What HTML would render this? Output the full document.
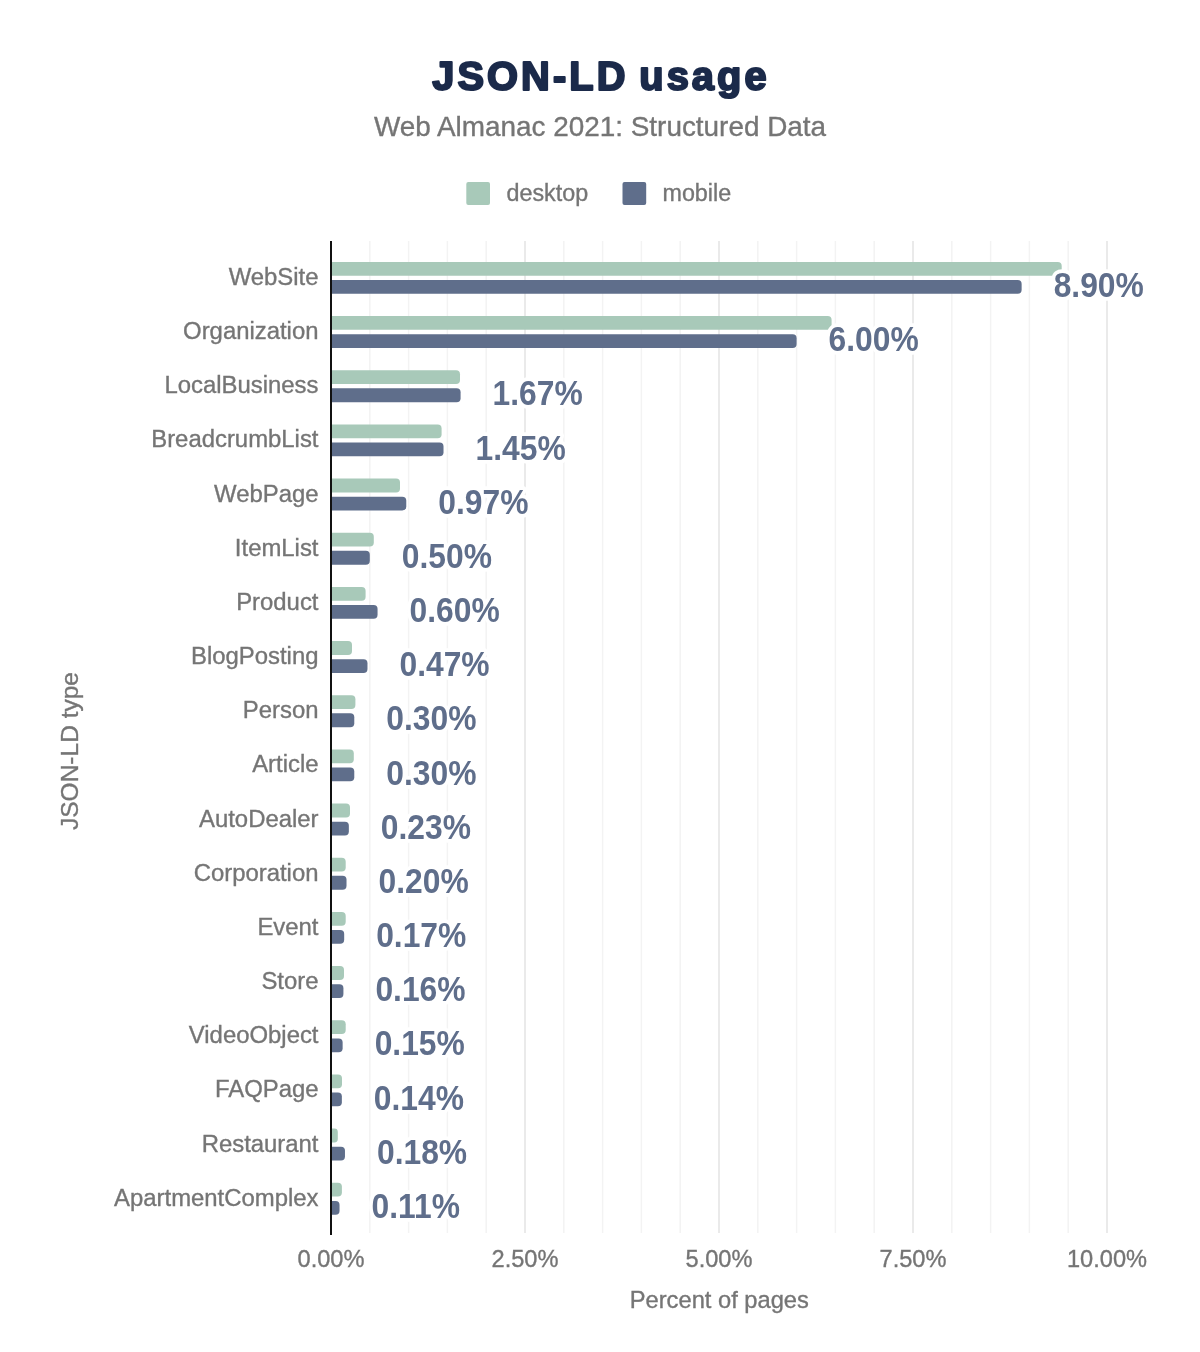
<!DOCTYPE html>
<html><head><meta charset="utf-8"><title>JSON-LD usage</title>
<style>
html,body{margin:0;padding:0;background:#fff;}
body{width:1200px;height:1352px;overflow:hidden;}
svg{display:block;will-change:transform;font-family:"Liberation Sans",sans-serif;}
.cat{font-size:23.9px;fill:#757575;text-anchor:end;}
text.g,.cat,.tick{stroke:#757575;stroke-width:0.35px;}
.tick{font-size:23.6px;fill:#757575;text-anchor:middle;}
.val{font-size:31.8px;font-weight:bold;fill:#5f6e8b;stroke:#fff;stroke-width:7px;paint-order:stroke;stroke-linejoin:round;}
</style></head><body>
<svg width="1200" height="1352" viewBox="0 0 1200 1352">

<text x="432.2" y="90.2" font-size="39.8" font-weight="bold" fill="#1b2a4a" stroke="#1b2a4a" stroke-width="2.1" stroke-linejoin="round" letter-spacing="3.1" word-spacing="-3.5">JSON-LD usage</text>
<text x="600" y="135.6" text-anchor="middle" font-size="27.9" class="g" fill="#757575">Web Almanac 2021: Structured Data</text>
<rect x="466.3" y="182" width="23.7" height="23" rx="2" fill="#a8c9b9"/>
<text x="506.5" y="200.7" font-size="23.3" class="g" fill="#757575">desktop</text>
<rect x="622.5" y="182" width="23.7" height="23" rx="2" fill="#5f6e8b"/>
<text x="662.5" y="200.7" font-size="23.3" class="g" fill="#757575">mobile</text>
<rect x="369.05" y="241" width="1.5" height="992" fill="#f3f3f3"/>
<rect x="407.85" y="241" width="1.5" height="992" fill="#f3f3f3"/>
<rect x="446.65" y="241" width="1.5" height="992" fill="#f3f3f3"/>
<rect x="485.45" y="241" width="1.5" height="992" fill="#f3f3f3"/>
<rect x="524.10" y="241" width="1.8" height="992" fill="#e8e8e8"/>
<rect x="563.05" y="241" width="1.5" height="992" fill="#f3f3f3"/>
<rect x="601.85" y="241" width="1.5" height="992" fill="#f3f3f3"/>
<rect x="640.65" y="241" width="1.5" height="992" fill="#f3f3f3"/>
<rect x="679.45" y="241" width="1.5" height="992" fill="#f3f3f3"/>
<rect x="718.10" y="241" width="1.8" height="992" fill="#e8e8e8"/>
<rect x="757.05" y="241" width="1.5" height="992" fill="#f3f3f3"/>
<rect x="795.85" y="241" width="1.5" height="992" fill="#f3f3f3"/>
<rect x="834.65" y="241" width="1.5" height="992" fill="#f3f3f3"/>
<rect x="873.45" y="241" width="1.5" height="992" fill="#f3f3f3"/>
<rect x="912.10" y="241" width="1.8" height="992" fill="#e8e8e8"/>
<rect x="951.05" y="241" width="1.5" height="992" fill="#f3f3f3"/>
<rect x="989.85" y="241" width="1.5" height="992" fill="#f3f3f3"/>
<rect x="1028.65" y="241" width="1.5" height="992" fill="#f3f3f3"/>
<rect x="1067.45" y="241" width="1.5" height="992" fill="#f3f3f3"/>
<rect x="1106.10" y="241" width="1.8" height="992" fill="#e8e8e8"/>
<path d="M331.00,261.90H1057.70A4.00,4.00 0 0 1 1061.70,265.90V271.70A4.00,4.00 0 0 1 1057.70,275.70H331.00Z" fill="#a8c9b9"/>
<path d="M331.00,280.00H1017.64A4.00,4.00 0 0 1 1021.64,284.00V289.80A4.00,4.00 0 0 1 1017.64,293.80H331.00Z" fill="#5f6e8b"/>
<path d="M331.00,316.07H827.60A4.00,4.00 0 0 1 831.60,320.07V325.87A4.00,4.00 0 0 1 827.60,329.87H331.00Z" fill="#a8c9b9"/>
<path d="M331.00,334.17H792.60A4.00,4.00 0 0 1 796.60,338.17V343.97A4.00,4.00 0 0 1 792.60,347.97H331.00Z" fill="#5f6e8b"/>
<path d="M331.00,370.24H456.00A4.00,4.00 0 0 1 460.00,374.24V380.04A4.00,4.00 0 0 1 456.00,384.04H331.00Z" fill="#a8c9b9"/>
<path d="M331.00,388.34H456.59A4.00,4.00 0 0 1 460.59,392.34V398.14A4.00,4.00 0 0 1 456.59,402.14H331.00Z" fill="#5f6e8b"/>
<path d="M331.00,424.41H437.60A4.00,4.00 0 0 1 441.60,428.41V434.21A4.00,4.00 0 0 1 437.60,438.21H331.00Z" fill="#a8c9b9"/>
<path d="M331.00,442.51H439.52A4.00,4.00 0 0 1 443.52,446.51V452.31A4.00,4.00 0 0 1 439.52,456.31H331.00Z" fill="#5f6e8b"/>
<path d="M331.00,478.58H396.00A4.00,4.00 0 0 1 400.00,482.58V488.38A4.00,4.00 0 0 1 396.00,492.38H331.00Z" fill="#a8c9b9"/>
<path d="M331.00,496.68H402.27A4.00,4.00 0 0 1 406.27,500.68V506.48A4.00,4.00 0 0 1 402.27,510.48H331.00Z" fill="#5f6e8b"/>
<path d="M331.00,532.75H369.80A4.00,4.00 0 0 1 373.80,536.75V542.55A4.00,4.00 0 0 1 369.80,546.55H331.00Z" fill="#a8c9b9"/>
<path d="M331.00,550.85H365.80A4.00,4.00 0 0 1 369.80,554.85V560.65A4.00,4.00 0 0 1 365.80,564.65H331.00Z" fill="#5f6e8b"/>
<path d="M331.00,586.92H361.60A4.00,4.00 0 0 1 365.60,590.92V596.72A4.00,4.00 0 0 1 361.60,600.72H331.00Z" fill="#a8c9b9"/>
<path d="M331.00,605.02H373.56A4.00,4.00 0 0 1 377.56,609.02V614.82A4.00,4.00 0 0 1 373.56,618.82H331.00Z" fill="#5f6e8b"/>
<path d="M331.00,641.09H348.00A4.00,4.00 0 0 1 352.00,645.09V650.89A4.00,4.00 0 0 1 348.00,654.89H331.00Z" fill="#a8c9b9"/>
<path d="M331.00,659.19H363.47A4.00,4.00 0 0 1 367.47,663.19V668.99A4.00,4.00 0 0 1 363.47,672.99H331.00Z" fill="#5f6e8b"/>
<path d="M331.00,695.26H351.40A4.00,4.00 0 0 1 355.40,699.26V705.06A4.00,4.00 0 0 1 351.40,709.06H331.00Z" fill="#a8c9b9"/>
<path d="M331.00,713.36H350.28A4.00,4.00 0 0 1 354.28,717.36V723.16A4.00,4.00 0 0 1 350.28,727.16H331.00Z" fill="#5f6e8b"/>
<path d="M331.00,749.43H349.80A4.00,4.00 0 0 1 353.80,753.43V759.23A4.00,4.00 0 0 1 349.80,763.23H331.00Z" fill="#a8c9b9"/>
<path d="M331.00,767.53H350.28A4.00,4.00 0 0 1 354.28,771.53V777.33A4.00,4.00 0 0 1 350.28,781.33H331.00Z" fill="#5f6e8b"/>
<path d="M331.00,803.60H346.00A4.00,4.00 0 0 1 350.00,807.60V813.40A4.00,4.00 0 0 1 346.00,817.40H331.00Z" fill="#a8c9b9"/>
<path d="M331.00,821.70H344.85A4.00,4.00 0 0 1 348.85,825.70V831.50A4.00,4.00 0 0 1 344.85,835.50H331.00Z" fill="#5f6e8b"/>
<path d="M331.00,857.77H341.70A4.00,4.00 0 0 1 345.70,861.77V867.57A4.00,4.00 0 0 1 341.70,871.57H331.00Z" fill="#a8c9b9"/>
<path d="M331.00,875.87H342.52A4.00,4.00 0 0 1 346.52,879.87V885.67A4.00,4.00 0 0 1 342.52,889.67H331.00Z" fill="#5f6e8b"/>
<path d="M331.00,911.94H341.70A4.00,4.00 0 0 1 345.70,915.94V921.74A4.00,4.00 0 0 1 341.70,925.74H331.00Z" fill="#a8c9b9"/>
<path d="M331.00,930.04H340.19A4.00,4.00 0 0 1 344.19,934.04V939.84A4.00,4.00 0 0 1 340.19,943.84H331.00Z" fill="#5f6e8b"/>
<path d="M331.00,966.11H340.00A4.00,4.00 0 0 1 344.00,970.11V975.91A4.00,4.00 0 0 1 340.00,979.91H331.00Z" fill="#a8c9b9"/>
<path d="M331.00,984.21H339.42A4.00,4.00 0 0 1 343.42,988.21V994.01A4.00,4.00 0 0 1 339.42,998.01H331.00Z" fill="#5f6e8b"/>
<path d="M331.00,1020.28H341.70A4.00,4.00 0 0 1 345.70,1024.28V1030.08A4.00,4.00 0 0 1 341.70,1034.08H331.00Z" fill="#a8c9b9"/>
<path d="M331.00,1038.38H338.64A4.00,4.00 0 0 1 342.64,1042.38V1048.18A4.00,4.00 0 0 1 338.64,1052.18H331.00Z" fill="#5f6e8b"/>
<path d="M331.00,1074.45H338.00A4.00,4.00 0 0 1 342.00,1078.45V1084.25A4.00,4.00 0 0 1 338.00,1088.25H331.00Z" fill="#a8c9b9"/>
<path d="M331.00,1092.55H337.86A4.00,4.00 0 0 1 341.86,1096.55V1102.35A4.00,4.00 0 0 1 337.86,1106.35H331.00Z" fill="#5f6e8b"/>
<path d="M331.00,1128.62H334.40A3.40,3.40 0 0 1 337.80,1132.02V1139.02A3.40,3.40 0 0 1 334.40,1142.42H331.00Z" fill="#a8c9b9"/>
<path d="M331.00,1146.72H340.97A4.00,4.00 0 0 1 344.97,1150.72V1156.52A4.00,4.00 0 0 1 340.97,1160.52H331.00Z" fill="#5f6e8b"/>
<path d="M331.00,1182.79H337.90A4.00,4.00 0 0 1 341.90,1186.79V1192.59A4.00,4.00 0 0 1 337.90,1196.59H331.00Z" fill="#a8c9b9"/>
<path d="M331.00,1200.89H335.54A4.00,4.00 0 0 1 339.54,1204.89V1210.69A4.00,4.00 0 0 1 335.54,1214.69H331.00Z" fill="#5f6e8b"/>
<rect x="330" y="241" width="2" height="994" fill="#111"/>
<text class="cat" transform="translate(318.5,284.90) scale(1,1.02)">WebSite</text>
<text class="val" transform="translate(1053.64,297.10) scale(1,1.08)">8.90%</text>
<text class="cat" transform="translate(318.5,339.07) scale(1,1.02)">Organization</text>
<text class="val" transform="translate(828.60,351.27) scale(1,1.08)">6.00%</text>
<text class="cat" transform="translate(318.5,393.24) scale(1,1.02)">LocalBusiness</text>
<text class="val" transform="translate(492.59,405.44) scale(1,1.08)">1.67%</text>
<text class="cat" transform="translate(318.5,447.41) scale(1,1.02)">BreadcrumbList</text>
<text class="val" transform="translate(475.52,459.61) scale(1,1.08)">1.45%</text>
<text class="cat" transform="translate(318.5,501.58) scale(1,1.02)">WebPage</text>
<text class="val" transform="translate(438.27,513.78) scale(1,1.08)">0.97%</text>
<text class="cat" transform="translate(318.5,555.75) scale(1,1.02)">ItemList</text>
<text class="val" transform="translate(401.80,567.95) scale(1,1.08)">0.50%</text>
<text class="cat" transform="translate(318.5,609.92) scale(1,1.02)">Product</text>
<text class="val" transform="translate(409.56,622.12) scale(1,1.08)">0.60%</text>
<text class="cat" transform="translate(318.5,664.09) scale(1,1.02)">BlogPosting</text>
<text class="val" transform="translate(399.47,676.29) scale(1,1.08)">0.47%</text>
<text class="cat" transform="translate(318.5,718.26) scale(1,1.02)">Person</text>
<text class="val" transform="translate(386.28,730.46) scale(1,1.08)">0.30%</text>
<text class="cat" transform="translate(318.5,772.43) scale(1,1.02)">Article</text>
<text class="val" transform="translate(386.28,784.63) scale(1,1.08)">0.30%</text>
<text class="cat" transform="translate(318.5,826.60) scale(1,1.02)">AutoDealer</text>
<text class="val" transform="translate(380.85,838.80) scale(1,1.08)">0.23%</text>
<text class="cat" transform="translate(318.5,880.77) scale(1,1.02)">Corporation</text>
<text class="val" transform="translate(378.52,892.97) scale(1,1.08)">0.20%</text>
<text class="cat" transform="translate(318.5,934.94) scale(1,1.02)">Event</text>
<text class="val" transform="translate(376.19,947.14) scale(1,1.08)">0.17%</text>
<text class="cat" transform="translate(318.5,989.11) scale(1,1.02)">Store</text>
<text class="val" transform="translate(375.42,1001.31) scale(1,1.08)">0.16%</text>
<text class="cat" transform="translate(318.5,1043.28) scale(1,1.02)">VideoObject</text>
<text class="val" transform="translate(374.64,1055.48) scale(1,1.08)">0.15%</text>
<text class="cat" transform="translate(318.5,1097.45) scale(1,1.02)">FAQPage</text>
<text class="val" transform="translate(373.86,1109.65) scale(1,1.08)">0.14%</text>
<text class="cat" transform="translate(318.5,1151.62) scale(1,1.02)">Restaurant</text>
<text class="val" transform="translate(376.97,1163.82) scale(1,1.08)">0.18%</text>
<text class="cat" transform="translate(318.5,1205.79) scale(1,1.02)">ApartmentComplex</text>
<text class="val" transform="translate(371.54,1217.99) scale(1,1.08)">0.11%</text>
<text class="tick" x="331.00" y="1267">0.00%</text>
<text class="tick" x="525.00" y="1267">2.50%</text>
<text class="tick" x="719.00" y="1267">5.00%</text>
<text class="tick" x="913.00" y="1267">7.50%</text>
<text class="tick" x="1107.00" y="1267">10.00%</text>
<text x="719.3" y="1307.6" text-anchor="middle" font-size="23.7" class="g" fill="#757575">Percent of pages</text>
<text transform="translate(77.9,751) rotate(-90)" text-anchor="middle" font-size="24.5" class="g" fill="#757575">JSON-LD type</text>
</svg></body></html>
